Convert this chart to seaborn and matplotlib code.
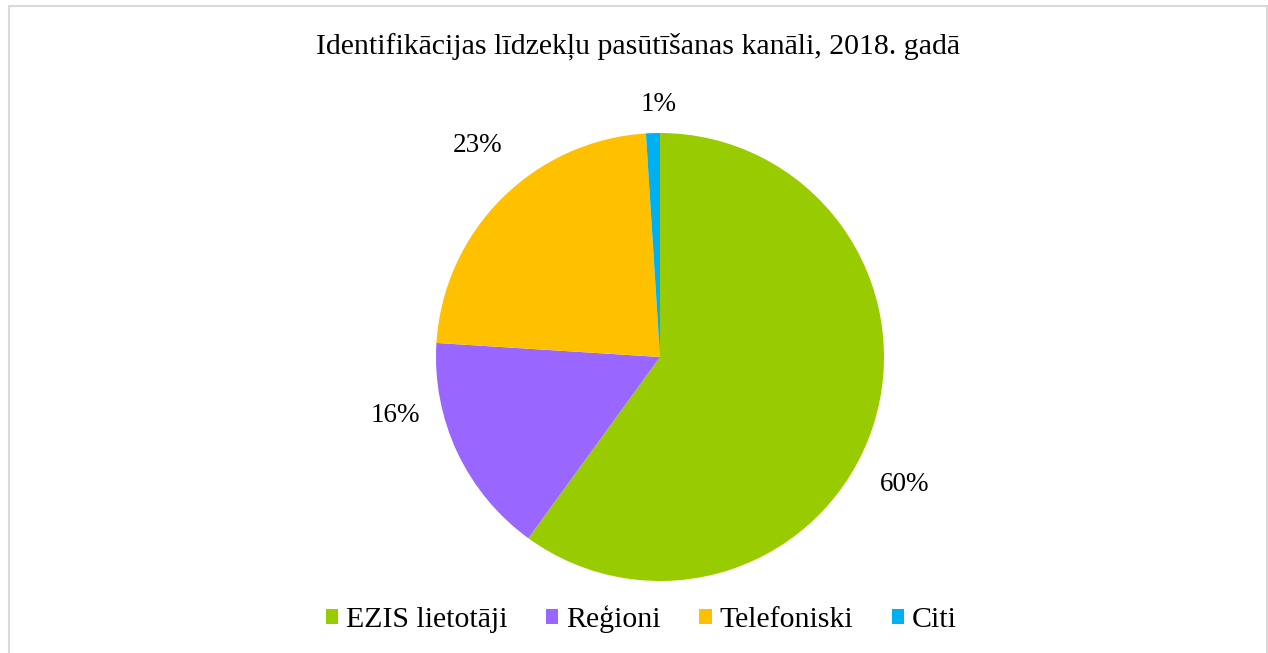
"""Pie chart: Identifikācijas līdzekļu pasūtīšanas kanāli, 2018. gadā."""
import matplotlib
matplotlib.use("Agg")
import matplotlib.pyplot as plt
from matplotlib.patches import Patch, Rectangle
import seaborn as sns

# data
categories = ["EZIS lietotāji", "Reģioni", "Telefoniski", "Citi"]
shares = [60, 16, 23, 1]
colors = ["#99CC00", "#9966FF", "#FFC000", "#00B0F0"]
title = "Identifikācijas līdzekļu pasūtīšanas kanāli, 2018. gadā"
# label positions relative to pie radius (Excel "best fit")
label_xy = [(1.094, -0.571), (-1.183, -0.259), (-0.813, 0.946), (-0.004, 1.129)]

sns.set_theme(style="white")
plt.rcParams["font.family"] = ["Liberation Serif", "DejaVu Serif"]
plt.rcParams["text.color"] = "#000000"

W, H, dpi = 1268, 653, 100
cx, cy, r = 660, 357, 224  # pie centre / radius in px

fig = plt.figure(figsize=(W / dpi, H / dpi), dpi=dpi)
ax = fig.add_axes([0, 0, 1, 1])
ax.pie(shares, colors=colors, startangle=90, counterclock=False,
       wedgeprops=dict(linewidth=0))
ax.set_xlim(-cx / r, (W - cx) / r)
ax.set_ylim(-(H - cy) / r, cy / r)
ax.set_aspect("auto")
ax.axis("off")

for v, (x, y) in zip(shares, label_xy):
    ax.text(x, y, f"{v}%", ha="center", va="center", fontsize=19.5, color="#000000")

fig.text(638 / W, 1 - 46 / H, title, ha="center", va="center", fontsize=21.5, color="#000000")

handles = [Patch(facecolor=c, edgecolor="none", label=l) for c, l in zip(colors, categories)]
leg = fig.legend(handles=handles, loc="center", bbox_to_anchor=(641 / W, 1 - 619 / H), ncol=4,
                 frameon=False, fontsize=21.5, handlelength=0.42, handleheight=0.42,
                 handletextpad=0.25, columnspacing=1.3, borderaxespad=0)
for t in leg.get_texts():
    t.set_color("#000000")

fig.patches.append(Rectangle((8.5 / W, -0.05), (1267 - 8.5) / W, 1.05 - 5.5 / H,
                             transform=fig.transFigure, fill=False,
                             edgecolor="#D9D9D9", linewidth=1.5))

fig.savefig("out.png", dpi=dpi)
